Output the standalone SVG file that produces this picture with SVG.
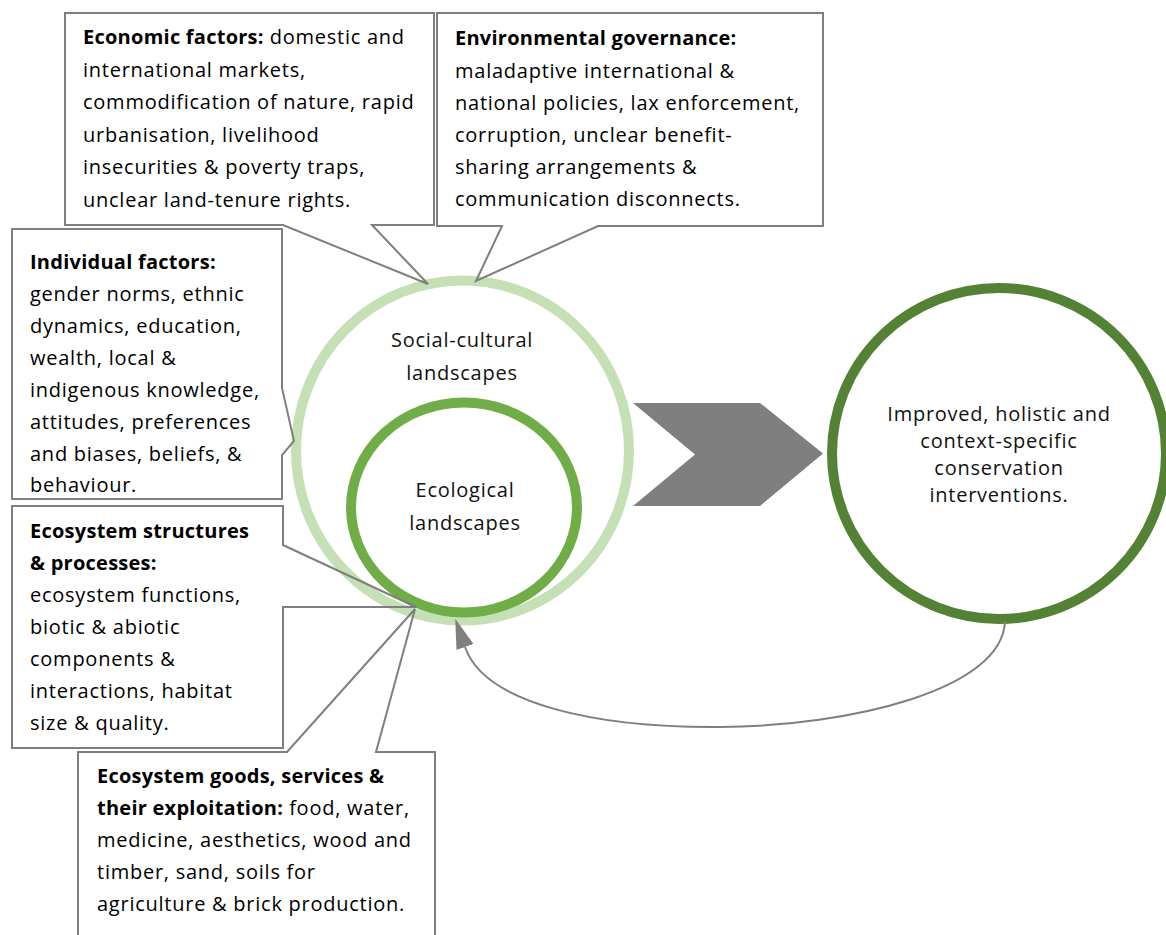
<svg xmlns="http://www.w3.org/2000/svg" width="1166" height="935" viewBox="0 0 1166 935">
  <defs>
    <style>
      .t { font-family: "Open Sans", "Noto Sans", sans-serif; font-size: 20px; letter-spacing: 0.75px; fill: #000; }
      .b { font-weight: bold; letter-spacing: 0.25px; }
      .c { text-anchor: middle; fill: #111; }
      .callout { fill: none; stroke: #7F7F7F; stroke-width: 2; stroke-linejoin: miter; }
      .ring { fill: none; }
      .conn { fill: none; stroke: #7F7F7F; stroke-width: 2; }
    </style>
    <marker id="arrow" viewBox="0 0 30 18" refX="0" refY="9" markerWidth="30" markerHeight="18" markerUnits="userSpaceOnUse" orient="auto">
      <path d="M0,0 L30,9 L0,18 Z" fill="#7F7F7F"/>
    </marker>
  </defs>
  <rect width="1166" height="935" fill="#ffffff"/>

  <g id="social-cultural">
    <ellipse class="ring" cx="462.5" cy="450.5" rx="166.5" ry="170" stroke="#C5E0B4" stroke-width="10"/>
    <text class="t c" x="462" y="347">Social-cultural</text>
    <text class="t c" x="462" y="380">landscapes</text>
  </g>
  <g id="ecological">
    <ellipse class="ring" cx="464" cy="507.5" rx="113" ry="105" stroke="#70AD47" stroke-width="10"/>
    <text class="t c" x="465" y="497">Ecological</text>
    <text class="t c" x="465" y="530">landscapes</text>
  </g>
  <g id="outcome">
    <ellipse class="ring" cx="999" cy="453.5" rx="167" ry="165.5" stroke="#548235" stroke-width="10"/>
    <text class="t c" x="999" y="421">Improved, holistic and</text>
    <text class="t c" x="999" y="448">context-specific</text>
    <text class="t c" x="999" y="475">conservation</text>
    <text class="t c" x="999" y="502">interventions.</text>
  </g>

  <g id="connectors">
    <polygon id="chevron" points="633,403 760,403 823,453.5 760,506 633,506 695,454.5" fill="#7F7F7F"/>
    <path class="conn" d="M1005,621 C1003,690 850,726 720,727 C600,728 485,705 465,647" marker-end="url(#arrow)"/>
  </g>

  <g id="economic-factors">
    <path class="callout" d="M65,13 H434 V225 H372 L428,284 L283,225 H65 Z"/>
    <text class="t" x="83" y="44"><tspan class="b">Economic factors:</tspan> domestic and</text>
    <text class="t" x="83" y="76.5">international markets,</text>
    <text class="t" x="83" y="109">commodification of nature, rapid</text>
    <text class="t" x="83" y="141.5">urbanisation, livelihood</text>
    <text class="t" x="83" y="174">insecurities &amp; poverty traps,</text>
    <text class="t" x="83" y="206.5">unclear land-tenure rights.</text>
  </g>

  <g id="environmental-governance">
    <path class="callout" d="M437,13 H823 V226 H598 L476,281 L502,226 H437 Z"/>
    <text class="t b" x="455" y="45">Environmental governance:</text>
    <text class="t" x="455" y="77.5">maladaptive international &amp;</text>
    <text class="t" x="455" y="110">national policies, lax enforcement,</text>
    <text class="t" x="455" y="142">corruption, unclear benefit-</text>
    <text class="t" x="455" y="174">sharing arrangements &amp;</text>
    <text class="t" x="455" y="206">communication disconnects.</text>
  </g>

  <g id="individual-factors">
    <path class="callout" d="M12,229 H282 V388 L294,441 L282,455 V499 H12 Z"/>
    <text class="t b" x="30" y="269">Individual factors:</text>
    <text class="t" x="30" y="301">gender norms, ethnic</text>
    <text class="t" x="30" y="333">dynamics, education,</text>
    <text class="t" x="30" y="365">wealth, local &amp;</text>
    <text class="t" x="30" y="397">indigenous knowledge,</text>
    <text class="t" x="30" y="429">attitudes, preferences</text>
    <text class="t" x="30" y="461">and biases, beliefs, &amp;</text>
    <text class="t" x="30" y="492">behaviour.</text>
  </g>

  <g id="ecosystem-structures">
    <path class="callout" d="M12,506 H283 V545 L416,607 L283,607 V748 H12 Z"/>
    <text class="t b" x="30" y="538">Ecosystem structures</text>
    <text class="t b" x="30" y="570">&amp; processes:</text>
    <text class="t" x="30" y="602">ecosystem functions,</text>
    <text class="t" x="30" y="634">biotic &amp; abiotic</text>
    <text class="t" x="30" y="666">components &amp;</text>
    <text class="t" x="30" y="698">interactions, habitat</text>
    <text class="t" x="30" y="730">size &amp; quality.</text>
  </g>

  <g id="ecosystem-goods">
    <path class="callout" d="M78,752 H287 L415,609 L376,752 H435 V945 H78 Z"/>
    <text class="t b" x="97" y="783">Ecosystem goods, services &amp;</text>
    <text class="t" x="97" y="815"><tspan class="b">their exploitation:</tspan> food, water,</text>
    <text class="t" x="97" y="847">medicine, aesthetics, wood and</text>
    <text class="t" x="97" y="879">timber, sand, soils for</text>
    <text class="t" x="97" y="911">agriculture &amp; brick production.</text>
  </g>
</svg>
